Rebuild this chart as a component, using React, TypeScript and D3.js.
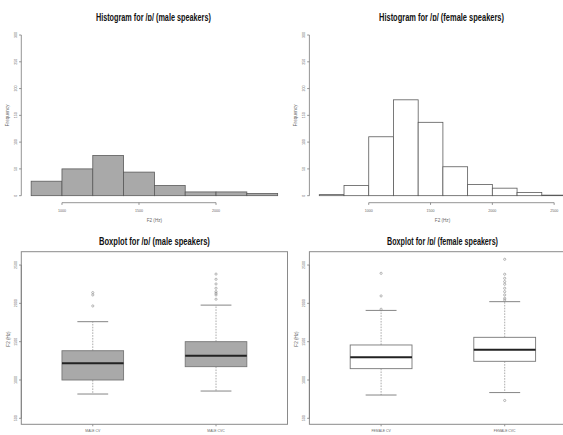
import React from "react"
import * as d3 from "d3"

const W = 563
const H = 435

// histogram data (F2 in Hz, 200 Hz bins)
const maleBreaks = [800, 1000, 1200, 1400, 1600, 1800, 2000, 2200, 2400]
const maleCounts = [27, 50, 75, 44, 19, 7, 7, 4]
const maleHistTicks = [1000, 1500, 2000]

const femaleBreaks = [600, 800, 1000, 1200, 1400, 1600, 1800, 2000, 2200, 2400, 2600]
const femaleCounts = [2, 19, 110, 179, 137, 54, 21, 14, 6, 1]
const femaleHistTicks = [1000, 1500, 2000, 2500]

const freqTicks = [0, 50, 100, 150, 200, 250, 300]

// boxplot data
const maleGroups = ["MALE CV", "MALE CVC"]
const maleLow = [817, 856]
const maleQ1 = [1000, 1174]
const maleMedian = [1218, 1317]
const maleQ3 = [1382, 1500]
const maleHigh = [1761, 1977]
const maleOutliers = [
  [1966, 2110, 2140],
  [2054, 2110, 2132, 2153, 2197, 2253, 2314, 2382],
]

const femaleGroups = ["FEMALE CV", "FEMALE CVC"]
const femaleLow = [804, 836]
const femaleQ1 = [1148, 1244]
const femaleMedian = [1296, 1396]
const femaleQ3 = [1457, 1557]
const femaleHigh = [1908, 2022]
const femaleOutliers = [
  [1923, 2097, 2392],
  [733, 2044, 2066, 2110, 2153, 2197, 2249, 2284, 2327, 2380, 2575],
]

const boxTicks = [500, 1000, 1500, 2000, 2500]

// plot regions
const LEFT = [21.3, 287.5]
const RIGHT = [309.4, 576.4]
const HIST_Y = [202.1, 28.6]
const BOX_Y = [424.3, 251.7]

const AXIS = "#7a7a7a"
const LABEL = "#666"
const TITLE_FONT = "'Liberation Sans Narrow', 'Liberation Sans', Arial, sans-serif"
const FONT = "'Liberation Sans', Arial, sans-serif"

const extend = (lo: number, hi: number) => {
  const pad = (hi - lo) * 0.04
  return [lo - pad, hi + pad]
}

const Title = ({ x, y, text, width }: any) => (
  <text
    x={x}
    y={y}
    textAnchor="middle"
    fontFamily={TITLE_FONT}
    fontWeight="bold"
    fontSize={10.5}
    fill="#111"
    textLength={width}
    lengthAdjust="spacingAndGlyphs"
  >
    {text}
  </text>
)

const YAxis = ({ x, scale, ticks }: any) => (
  <g>
    <line x1={x} x2={x} y1={scale(ticks[0])} y2={scale(ticks[ticks.length - 1])} stroke={AXIS} strokeWidth={0.8} />
    {ticks.map((t: number) => (
      <g key={t}>
        <line x1={x} x2={x - 2.2} y1={scale(t)} y2={scale(t)} stroke={AXIS} strokeWidth={0.8} />
        <text
          transform={`translate(${x - 4},${scale(t)}) rotate(-90)`}
          textAnchor="middle"
          fontFamily={FONT}
          fontSize={3.6}
          fill={LABEL}
        >
          {t}
        </text>
      </g>
    ))}
  </g>
)

const Histogram = ({ region, breaks, counts, ticks, title, titleWidth, fill }: any) => {
  const x = d3.scaleLinear().domain(extend(breaks[0], breaks[breaks.length - 1])).range(region)
  const y = d3.scaleLinear().domain(extend(0, 300)).range(HIST_Y)
  const axisY = HIST_Y[0] + 0.6
  const mid = region[0] + (LEFT[1] - LEFT[0]) / 2
  return (
    <g>
      <Title x={mid - 1} y={21} text={title} width={titleWidth} />
      {counts.map((c: number, i: number) => (
        <rect
          key={i}
          x={x(breaks[i])}
          y={y(c)}
          width={x(breaks[i + 1]) - x(breaks[i])}
          height={y(0) - y(c)}
          fill={fill}
          stroke="#5a5a5a"
          strokeWidth={0.8}
        />
      ))}
      <line x1={x(ticks[0])} x2={x(ticks[ticks.length - 1])} y1={axisY} y2={axisY} stroke={AXIS} strokeWidth={0.8} />
      {ticks.map((t: number) => (
        <g key={t}>
          <line x1={x(t)} x2={x(t)} y1={axisY} y2={axisY + 2.2} stroke={AXIS} strokeWidth={0.8} />
          <text x={x(t)} y={axisY + 9} textAnchor="middle" fontFamily={FONT} fontSize={3.6} fill={LABEL}>
            {t}
          </text>
        </g>
      ))}
      <text x={mid} y={222} textAnchor="middle" fontFamily={FONT} fontSize={4.6} fill={LABEL}>
        F2 (Hz)
      </text>
      <YAxis x={region[0]} scale={y} ticks={freqTicks} />
      <text
        transform={`translate(${region[0] - 12},${(HIST_Y[0] + HIST_Y[1]) / 2}) rotate(-90)`}
        textAnchor="middle"
        fontFamily={FONT}
        fontSize={4.6}
        fill={LABEL}
      >
        Frequency
      </text>
    </g>
  )
}

const Boxplot = ({ region, groups, low, q1, median, q3, high, outliers, title, titleWidth, fill }: any) => {
  const x = d3.scaleLinear().domain(extend(0.5, 2.5)).range(region)
  const y = d3.scaleLinear().domain([422, 2674]).range(BOX_Y)
  const half = x(1.25) - x(1)
  const cap = half / 2
  const mid = region[0] + (LEFT[1] - LEFT[0]) / 2
  return (
    <g>
      <Title x={mid} y={245} text={title} width={titleWidth} />
      {groups.map((g: string, i: number) => {
        const cx = x(i + 1)
        return (
          <g key={g}>
            <line x1={cx} x2={cx} y1={y(q3[i])} y2={y(high[i])} stroke="#888" strokeWidth={0.7} strokeDasharray="1.6,1.2" />
            <line x1={cx} x2={cx} y1={y(q1[i])} y2={y(low[i])} stroke="#888" strokeWidth={0.7} strokeDasharray="1.6,1.2" />
            <line x1={cx - cap} x2={cx + cap} y1={y(high[i])} y2={y(high[i])} stroke="#777" strokeWidth={0.9} />
            <line x1={cx - cap} x2={cx + cap} y1={y(low[i])} y2={y(low[i])} stroke="#777" strokeWidth={0.9} />
            <rect
              x={cx - half}
              y={y(q3[i])}
              width={half * 2}
              height={y(q1[i]) - y(q3[i])}
              fill={fill}
              stroke="#777"
              strokeWidth={0.9}
            />
            <line x1={cx - half} x2={cx + half} y1={y(median[i])} y2={y(median[i])} stroke="#222" strokeWidth={2} />
            {outliers[i].map((o: number, j: number) => (
              <circle key={j} cx={cx} cy={y(o)} r={1.1} fill="none" stroke="#888" strokeWidth={0.6} />
            ))}
            <line x1={cx} x2={cx} y1={BOX_Y[0]} y2={BOX_Y[0] + 2} stroke={AXIS} strokeWidth={0.8} />
            <text x={cx} y={BOX_Y[0] + 7.5} textAnchor="middle" fontFamily={FONT} fontSize={3.4} fill={LABEL}>
              {g}
            </text>
          </g>
        )
      })}
      <rect
        x={region[0]}
        y={BOX_Y[1]}
        width={region[1] - region[0]}
        height={BOX_Y[0] - BOX_Y[1]}
        fill="none"
        stroke="#8a8a8a"
        strokeWidth={1}
      />
      <YAxis x={region[0]} scale={y} ticks={boxTicks} />
      <text
        transform={`translate(${region[0] - 11},${(BOX_Y[0] + BOX_Y[1]) / 2 + 1}) rotate(-90)`}
        textAnchor="middle"
        fontFamily={FONT}
        fontSize={4.6}
        fill={LABEL}
      >
        F2 (Hz)
      </text>
    </g>
  )
}

export default function App() {
  return (
    <div style={{ position: "absolute", left: 0, top: 0, width: W, height: H, background: "#fff" }}>
      <svg width={W} height={H} style={{ display: "block" }}>
        <rect width={W} height={H} fill="#fff" />
        <Histogram
          region={LEFT}
          breaks={maleBreaks}
          counts={maleCounts}
          ticks={maleHistTicks}
          title="Histogram for /ɒ/ (male speakers)"
          titleWidth={115}
          fill="#a9a9a9"
        />
        <Histogram
          region={RIGHT}
          breaks={femaleBreaks}
          counts={femaleCounts}
          ticks={femaleHistTicks}
          title="Histogram for /ɒ/ (female speakers)"
          titleWidth={125}
          fill="#fff"
        />
        <Boxplot
          region={LEFT}
          groups={maleGroups}
          low={maleLow}
          q1={maleQ1}
          median={maleMedian}
          q3={maleQ3}
          high={maleHigh}
          outliers={maleOutliers}
          title="Boxplot for /ɒ/ (male speakers)"
          titleWidth={111}
          fill="#a9a9a9"
        />
        <Boxplot
          region={RIGHT}
          groups={femaleGroups}
          low={femaleLow}
          q1={femaleQ1}
          median={femaleMedian}
          q3={femaleQ3}
          high={femaleHigh}
          outliers={femaleOutliers}
          title="Boxplot for /ɒ/ (female speakers)"
          titleWidth={111}
          fill="#fff"
        />
      </svg>
    </div>
  )
}
